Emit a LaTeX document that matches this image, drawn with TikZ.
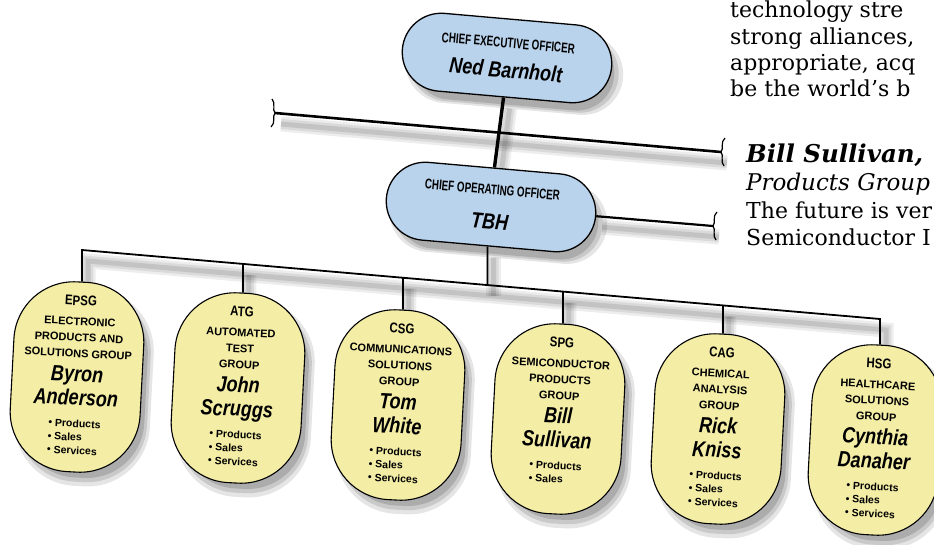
\documentclass[tikz,border=0pt]{standalone}
\usepackage{fontspec}
\setmainfont{Liberation Sans}
\newfontfamily\labfam[FakeStretch=0.7]{Liberation Sans}
\newfontfamily\namefam[FakeStretch=0.82]{Liberation Sans}
\newfontfamily\serfam{DejaVu Serif}
\usetikzlibrary{shapes.misc,shadows,calc}
\pgfdeclarelayer{bg}
\pgfsetlayers{bg,main}
\definecolor{boxblue}{RGB}{186,211,236}
\definecolor{ovalyel}{RGB}{244,237,166}
\newcommand\labf{\labfam\fontsize{14}{14}\selectfont\bfseries}
\newcommand\namef{\namefam\fontsize{22}{22}\selectfont\bfseries\itshape}
\newcommand\abbrf{\namefam\fontsize{14}{14}\selectfont\bfseries}
\newcommand\blist[1]{{\fontsize{10.5}{13.5}\selectfont\bfseries\lineskiplimit0pt\lineskip0pt\begin{tabular}[t]{@{}l@{}}#1\end{tabular}}}
\tikzset{
  shd/.style={
    general shadow={shadow xshift=7pt,shadow yshift=-10pt,shadow scale=1.04,fill=black,opacity=0.10},
    general shadow={shadow xshift=7pt,shadow yshift=-10pt,shadow scale=1.0,fill=black,opacity=0.12},
    general shadow={shadow xshift=7pt,shadow yshift=-10pt,shadow scale=0.96,fill=black,opacity=0.14}},
  execbox/.style={rounded rectangle, draw=black, line width=1.3pt, fill=boxblue,
    minimum width=210pt, minimum height=78pt, inner sep=0pt, rotate=-5, align=center,
    font=\fontsize{14}{30}\selectfont\lineskiplimit-60pt\relax, shd},
  grpoval/.style={rectangle, rounded corners=60pt, draw=black, line width=1.1pt, fill=ovalyel,
    minimum width=130pt, minimum height=190pt, inner sep=0pt, rotate=-3, align=center,
    font=\fontsize{11}{16}\selectfont\bfseries\lineskiplimit-60pt\relax, shd},
  link/.style={draw=black, line width=1.8pt, line join=miter},
  heavylink/.style={draw=black, line width=3.4pt},
  breaklink/.style={draw=black, line width=2.6pt},
  lshd/.style={draw=black, line width=15pt, opacity=0.07,
    preaction={draw=black, line width=10pt, opacity=0.08},
    postaction={draw=black, line width=5pt, opacity=0.10}},
  rtext/.style={anchor=base west, inner sep=0pt, font=\serfam\fontsize{22}{22}\selectfont},
  pics/breakL/.style={code={\draw[line width=1.2pt] (-3,-14) .. controls (1,-10) and (-3,-3) .. (0,0) .. controls (-3,3) and (1,10) .. (-4,14);}},
  pics/breakR/.style={code={\draw[line width=1.2pt] (4,-14) .. controls (-1,-10) and (3,-3) .. (0,0) .. controls (3,3) and (-1,10) .. (3,14);}},
}
\begin{document}
\begin{tikzpicture}[x=1pt,y=-1pt]
\useasboundingbox (0,0) rectangle (934,544);
\begin{pgfonlayer}{bg}
  \fill[white] (0,0) rectangle (934,544);
\end{pgfonlayer}

% executive boxes
\node[execbox] (ceo) at (507,58) {{\labf CHIEF EXECUTIVE OFFICER}\\{\namef Ned Barnholt}};
\node[execbox] (coo) at (491,207) {{\labf CHIEF OPERATING OFFICER}\\[5pt]{\namef TBH}};

% group ovals
\node[grpoval] (epsg) at (77,377) {{\abbrf EPSG}\\[4pt]ELECTRONIC\\PRODUCTS AND\\SOLUTIONS GROUP\\[8pt]{\namef Byron}\\[8pt]{\namef Anderson}\\[6pt]\blist{• Products\\• Sales\\• Services}};
\node[grpoval] (atg) at (238,388) {{\abbrf ATG}\\[4pt]AUTOMATED\\TEST\\GROUP\\[8pt]{\namef John}\\[8pt]{\namef Scruggs}\\[6pt]\blist{• Products\\• Sales\\• Services}};
\node[grpoval] (csg) at (398,405) {{\abbrf CSG}\\[4pt]COMMUNICATIONS\\SOLUTIONS\\GROUP\\[8pt]{\namef Tom}\\[8pt]{\namef White}\\[6pt]\blist{• Products\\• Sales\\• Services}};
\node[grpoval] (spg) at (558,419) {{\abbrf SPG}\\[4pt]SEMICONDUCTOR\\PRODUCTS\\GROUP\\[8pt]{\namef Bill}\\[8pt]{\namef Sullivan}\\[6pt]\blist{• Products\\• Sales\\\mbox{}}};
\node[grpoval] (cag) at (718,429) {{\abbrf CAG}\\[4pt]CHEMICAL\\ANALYSIS\\GROUP\\[8pt]{\namef Rick}\\[8pt]{\namef Kniss}\\[6pt]\blist{• Products\\• Sales\\• Services}};
\node[grpoval] (hsg) at (875,440) {{\abbrf HSG}\\[4pt]HEALTHCARE\\SOLUTIONS\\GROUP\\[8pt]{\namef Cynthia}\\[8pt]{\namef Danaher}\\[6pt]\blist{• Products\\• Sales\\• Services}};

% bus coordinates
\coordinate (busL) at (epsg.north |- 0,250);
\coordinate (busR) at (hsg.north |- 0,319);
\foreach \n in {atg,csg,spg,cag} {
  \coordinate (\n up) at ($(\n.north)+(0,-40)$);
  \coordinate (b\n) at (intersection of busL--busR and \n.north--\n up);
}
\coordinate (cooDown) at ($(coo.south)+(0,40)$);
\coordinate (bcoo) at (intersection of busL--busR and coo.south--cooDown);

% break coordinates
\coordinate (brkL) at (275,113);
\coordinate (brkR) at (721,152);
\coordinate (brkC) at (713,226);

% line shadows
\begin{pgfonlayer}{bg}
\begin{scope}[transform canvas={shift={(6pt,-11pt)}}]
  \draw[lshd] (brkL) -- (brkR);
  \draw[lshd] (coo.east) -- (brkC);
  \draw[lshd] (ceo.south) -- (coo.north);
  \draw[lshd] (coo.south) -- (bcoo);
  \draw[lshd] (epsg.north) -- (busL) -- (busR) -- (hsg.north);
  \foreach \n in {atg,csg,spg,cag} { \draw[lshd] (b\n) -- (\n.north); }
\end{scope}
\end{pgfonlayer}

% connectors
\draw[breaklink] (brkL) -- (brkR);
\pic at (brkL) {breakL};
\pic at (brkR) {breakR};
\draw[breaklink, line width=2.2pt] (coo.east) -- (brkC);
\pic at (brkC) {breakR};
\draw[heavylink] (ceo.south) -- (coo.north);
\draw[link] (coo.south) -- (bcoo);
\draw[link] (epsg.north) -- (busL) -- (busR) -- (hsg.north);
\foreach \n in {atg,csg,spg,cag} { \draw[link] (b\n) -- (\n.north); }

% article text on the right
\node[rtext] (r1) at (730,17) {technology stre};
\node[rtext] (r2) at (730,44) {strong alliances,};
\node[rtext] (r3) at (730,70) {appropriate, acq};
\node[rtext] (r4) at (730,96) {be the world’s b};
\node[rtext, font=\serfam\fontsize{24.5}{24.5}\selectfont] (r5) at (746,162) {\bfseries\itshape Bill Sullivan,};
\node[rtext, font=\serfam\fontsize{23}{23}\selectfont] (r6) at (746,190) {\itshape Products Group};
\node[rtext] (r7) at (746,218) {The future is ver};
\node[rtext] (r8) at (746,245) {Semiconductor I};
\end{tikzpicture}
\end{document}
